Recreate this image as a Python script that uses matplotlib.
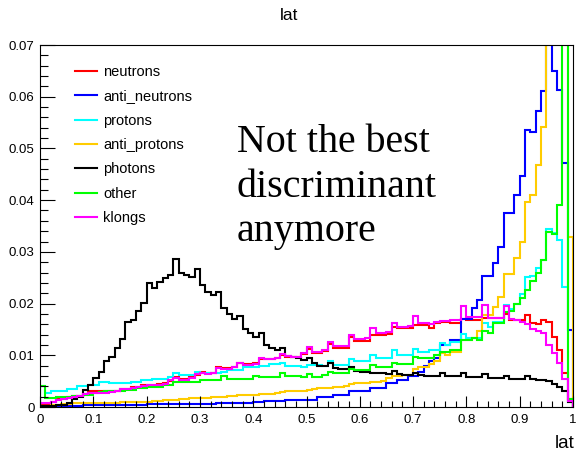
import numpy as np
import matplotlib
matplotlib.use("Agg")
import matplotlib.pyplot as plt
from matplotlib.lines import Line2D
from matplotlib.ticker import MultipleLocator, FuncFormatter

plt.rcParams['font.family'] = ['Liberation Sans', 'DejaVu Sans']

# 100 bins of "lat" between 0 and 1
bin_edges = np.linspace(0.0, 1.0, 101)

neutrons = [
    0.0006, 0.0006, 0.0010, 0.0015, 0.0015, 0.0020, 0.0022, 0.0022, 0.0025, 0.0030,
    0.0030, 0.0030, 0.0031, 0.0030, 0.0031, 0.0034, 0.0034, 0.0038, 0.0038, 0.0042,
    0.0042, 0.0043, 0.0044, 0.0046, 0.0050, 0.0058, 0.0055, 0.0055, 0.0058, 0.0062,
    0.0068, 0.0065, 0.0065, 0.0077, 0.0075, 0.0075, 0.0078, 0.0085, 0.0083, 0.0083,
    0.0085, 0.0092, 0.0093, 0.0093, 0.0095, 0.0100, 0.0097, 0.0097, 0.0097, 0.0103,
    0.0112, 0.0105, 0.0105, 0.0108, 0.0122, 0.0115, 0.0115, 0.0115, 0.0135, 0.0128,
    0.0128, 0.0128, 0.0140, 0.0140, 0.0140, 0.0142, 0.0154, 0.0152, 0.0152, 0.0152,
    0.0158, 0.0158, 0.0158, 0.0152, 0.0163, 0.0164, 0.0164, 0.0162, 0.0162, 0.0170,
    0.0168, 0.0168, 0.0168, 0.0172, 0.0172, 0.0172, 0.0172, 0.0180, 0.0168, 0.0168,
    0.0168, 0.0178, 0.0163, 0.0160, 0.0168, 0.0165, 0.0135, 0.0110, 0.0065, 0.0015,
]

anti_neutrons = [
    0.0001, 0.0001, 0.0001, 0.0002, 0.0002, 0.0002, 0.0002, 0.0002, 0.0003, 0.0003,
    0.0003, 0.0003, 0.0003, 0.0003, 0.0004, 0.0004, 0.0004, 0.0004, 0.0004, 0.0004,
    0.0005, 0.0005, 0.0005, 0.0005, 0.0005, 0.0005, 0.0006, 0.0006, 0.0006, 0.0006,
    0.0006, 0.0006, 0.0006, 0.0007, 0.0007, 0.0008, 0.0008, 0.0008, 0.0008, 0.0008,
    0.0009, 0.0010, 0.0011, 0.0012, 0.0012, 0.0012, 0.0013, 0.0014, 0.0014, 0.0014,
    0.0014, 0.0014, 0.0019, 0.0019, 0.0019, 0.0023, 0.0023, 0.0023, 0.0030, 0.0030,
    0.0030, 0.0030, 0.0036, 0.0036, 0.0036, 0.0046, 0.0046, 0.0052, 0.0052, 0.0060,
    0.0060, 0.0068, 0.0079, 0.0089, 0.0094, 0.0120, 0.0120, 0.0130, 0.0130, 0.0171,
    0.0171, 0.0191, 0.0207, 0.0253, 0.0253, 0.0279, 0.0309, 0.0375, 0.0375, 0.0410,
    0.0447, 0.0536, 0.0532, 0.0573, 0.0612, 0.0800, 0.0650, 0.0613, 0.0472, 0.0149,
]

protons = [
    0.0040, 0.0028, 0.0031, 0.0031, 0.0031, 0.0035, 0.0035, 0.0040, 0.0040, 0.0042,
    0.0042, 0.0049, 0.0049, 0.0046, 0.0046, 0.0046, 0.0046, 0.0049, 0.0049, 0.0052,
    0.0052, 0.0055, 0.0055, 0.0055, 0.0058, 0.0066, 0.0062, 0.0062, 0.0062, 0.0068,
    0.0065, 0.0065, 0.0065, 0.0065, 0.0068, 0.0072, 0.0072, 0.0072, 0.0077, 0.0077,
    0.0077, 0.0079, 0.0079, 0.0084, 0.0084, 0.0086, 0.0079, 0.0079, 0.0079, 0.0077,
    0.0081, 0.0081, 0.0081, 0.0080, 0.0088, 0.0082, 0.0082, 0.0082, 0.0092, 0.0088,
    0.0088, 0.0088, 0.0101, 0.0095, 0.0095, 0.0095, 0.0110, 0.0101, 0.0101, 0.0101,
    0.0112, 0.0107, 0.0107, 0.0110, 0.0110, 0.0123, 0.0120, 0.0126, 0.0126, 0.0142,
    0.0134, 0.0134, 0.0134, 0.0162, 0.0155, 0.0165, 0.0165, 0.0197, 0.0190, 0.0200,
    0.0218, 0.0252, 0.0254, 0.0268, 0.0284, 0.0345, 0.0336, 0.0323, 0.0233, 0.0010,
]

anti_protons = [
    0.0002, 0.0002, 0.0003, 0.0004, 0.0006, 0.0006, 0.0007, 0.0007, 0.0007, 0.0007,
    0.0007, 0.0008, 0.0008, 0.0008, 0.0008, 0.0009, 0.0009, 0.0010, 0.0010, 0.0010,
    0.0010, 0.0012, 0.0012, 0.0013, 0.0013, 0.0014, 0.0015, 0.0016, 0.0017, 0.0017,
    0.0017, 0.0018, 0.0020, 0.0020, 0.0020, 0.0021, 0.0021, 0.0023, 0.0023, 0.0023,
    0.0024, 0.0026, 0.0026, 0.0026, 0.0027, 0.0029, 0.0030, 0.0030, 0.0030, 0.0031,
    0.0032, 0.0035, 0.0036, 0.0036, 0.0037, 0.0039, 0.0039, 0.0040, 0.0045, 0.0046,
    0.0046, 0.0047, 0.0049, 0.0049, 0.0050, 0.0057, 0.0060, 0.0060, 0.0062, 0.0062,
    0.0073, 0.0077, 0.0077, 0.0083, 0.0088, 0.0104, 0.0101, 0.0107, 0.0107, 0.0130,
    0.0130, 0.0133, 0.0146, 0.0178, 0.0178, 0.0194, 0.0212, 0.0257, 0.0258, 0.0288,
    0.0320, 0.0396, 0.0410, 0.0468, 0.0541, 0.0800, 0.0800, 0.0800, 0.0800, 0.0329,
]

photons = [
    0.0001, 0.0001, 0.0002, 0.0003, 0.0004, 0.0008, 0.0015, 0.0020, 0.0033, 0.0043,
    0.0057, 0.0068, 0.0089, 0.0097, 0.0115, 0.0131, 0.0165, 0.0168, 0.0186, 0.0202,
    0.0239, 0.0230, 0.0242, 0.0249, 0.0255, 0.0286, 0.0260, 0.0255, 0.0251, 0.0267,
    0.0235, 0.0223, 0.0217, 0.0222, 0.0191, 0.0179, 0.0170, 0.0176, 0.0151, 0.0144,
    0.0135, 0.0144, 0.0120, 0.0115, 0.0110, 0.0115, 0.0099, 0.0096, 0.0094, 0.0090,
    0.0095, 0.0085, 0.0079, 0.0079, 0.0086, 0.0075, 0.0073, 0.0073, 0.0077, 0.0070,
    0.0068, 0.0068, 0.0065, 0.0065, 0.0065, 0.0064, 0.0070, 0.0064, 0.0062, 0.0062,
    0.0065, 0.0061, 0.0059, 0.0060, 0.0060, 0.0065, 0.0060, 0.0060, 0.0060, 0.0065,
    0.0058, 0.0058, 0.0058, 0.0063, 0.0057, 0.0057, 0.0057, 0.0060, 0.0055, 0.0055,
    0.0055, 0.0060, 0.0054, 0.0052, 0.0052, 0.0050, 0.0045, 0.0039, 0.0030, 0.0010,
]

other = [
    0.0040, 0.0018, 0.0018, 0.0019, 0.0019, 0.0020, 0.0022, 0.0022, 0.0023, 0.0023,
    0.0027, 0.0029, 0.0030, 0.0030, 0.0030, 0.0030, 0.0032, 0.0032, 0.0036, 0.0036,
    0.0038, 0.0038, 0.0039, 0.0042, 0.0042, 0.0049, 0.0048, 0.0048, 0.0049, 0.0049,
    0.0052, 0.0052, 0.0052, 0.0052, 0.0059, 0.0055, 0.0055, 0.0055, 0.0055, 0.0055,
    0.0060, 0.0058, 0.0058, 0.0058, 0.0058, 0.0065, 0.0060, 0.0060, 0.0060, 0.0058,
    0.0064, 0.0058, 0.0058, 0.0062, 0.0068, 0.0065, 0.0065, 0.0065, 0.0073, 0.0072,
    0.0072, 0.0072, 0.0081, 0.0077, 0.0077, 0.0077, 0.0086, 0.0083, 0.0083, 0.0083,
    0.0097, 0.0094, 0.0094, 0.0094, 0.0101, 0.0107, 0.0107, 0.0110, 0.0110, 0.0130,
    0.0130, 0.0133, 0.0130, 0.0146, 0.0143, 0.0162, 0.0162, 0.0184, 0.0186, 0.0200,
    0.0210, 0.0226, 0.0244, 0.0259, 0.0284, 0.0339, 0.0335, 0.0391, 0.0800, 0.0015,
]

klongs = [
    0.0008, 0.0008, 0.0010, 0.0013, 0.0015, 0.0018, 0.0020, 0.0022, 0.0025, 0.0027,
    0.0028, 0.0028, 0.0028, 0.0029, 0.0030, 0.0034, 0.0034, 0.0036, 0.0038, 0.0040,
    0.0042, 0.0042, 0.0043, 0.0045, 0.0052, 0.0056, 0.0052, 0.0053, 0.0056, 0.0063,
    0.0066, 0.0064, 0.0066, 0.0076, 0.0073, 0.0074, 0.0078, 0.0086, 0.0082, 0.0082,
    0.0084, 0.0094, 0.0092, 0.0092, 0.0094, 0.0102, 0.0098, 0.0097, 0.0097, 0.0105,
    0.0116, 0.0107, 0.0107, 0.0110, 0.0126, 0.0117, 0.0117, 0.0118, 0.0139, 0.0132,
    0.0132, 0.0133, 0.0152, 0.0143, 0.0143, 0.0145, 0.0162, 0.0155, 0.0155, 0.0156,
    0.0176, 0.0162, 0.0162, 0.0160, 0.0165, 0.0166, 0.0166, 0.0168, 0.0168, 0.0196,
    0.0174, 0.0174, 0.0174, 0.0197, 0.0172, 0.0172, 0.0172, 0.0196, 0.0170, 0.0168,
    0.0165, 0.0160, 0.0150, 0.0146, 0.0143, 0.0120, 0.0105, 0.0085, 0.0055, 0.0012,
]

series_names = ["neutrons", "anti_neutrons", "protons", "anti_protons",
                "photons", "other", "klongs"]
series_values = [neutrons, anti_neutrons, protons, anti_protons,
                 photons, other, klongs]
series_colors = ["#ff0000", "#0000ff", "#00ffff", "#ffcc00",
                 "#000000", "#00ff00", "#ff00ff"]

W, H = 578, 455
fig = plt.figure(figsize=(W / 100, H / 100), dpi=100)
ax = fig.add_axes([40 / W, 1 - 407 / H, 533 / W, 362 / H])

for vals, col in zip(series_values, series_colors):
    ax.stairs(vals, bin_edges, baseline=0, color=col, lw=1.5)

ax.set_xlim(0, 1)
ax.set_ylim(0, 0.07)

# ROOT-style frame and inward ticks
for sp in ax.spines.values():
    sp.set_linewidth(0.8)
    sp.set_color("black")
ax.xaxis.set_major_locator(MultipleLocator(0.1))
ax.xaxis.set_minor_locator(MultipleLocator(0.02))
ax.yaxis.set_major_locator(MultipleLocator(0.01))
ax.yaxis.set_minor_locator(MultipleLocator(0.002))
fmt = FuncFormatter(lambda v, p: "%g" % round(v, 4))
ax.xaxis.set_major_formatter(fmt)
ax.yaxis.set_major_formatter(fmt)
ax.tick_params(axis="x", which="major", direction="in", length=8, width=0.8,
               labelsize=9.5, pad=5)
ax.tick_params(axis="x", which="minor", direction="in", length=4, width=0.8)
ax.tick_params(axis="y", which="major", direction="in", length=11, width=0.8,
               labelsize=9.5, pad=4)
ax.tick_params(axis="y", which="minor", direction="in", length=5.5, width=0.8)

fig.text(0.5, 1 - 15 / H, "lat", ha="center", va="center", fontsize=12.5)
fig.text(575 / W, 1 - 443 / H, "lat", ha="right", va="center", fontsize=13.5)

handles = [Line2D([], [], color=c, lw=1.5) for c in series_colors]
ax.legend(handles, series_names, loc="upper left",
          bbox_to_anchor=((75 - 40) / 533, (407 - 65) / 362),
          frameon=False, fontsize=10.5, handlelength=1.5, handletextpad=0.42,
          labelspacing=0.71, borderpad=0, borderaxespad=0)

serif = ["Liberation Serif", "DejaVu Serif"]
for line, base in zip(["Not the best", "discriminant", "anymore"], [152, 197, 241]):
    fig.text(237 / W, 1 - base / H, line, ha="left", va="baseline",
             fontsize=28.8, family=serif)

fig.savefig("out.png", dpi=100)
